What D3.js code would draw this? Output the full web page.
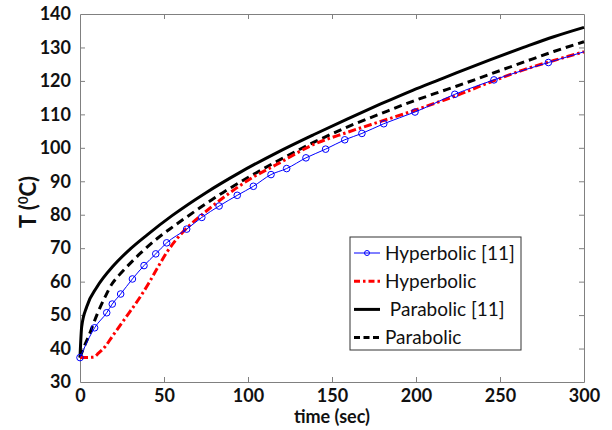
<!DOCTYPE html>
<html>
<head>
<meta charset="utf-8">
<script src="https://cdn.jsdelivr.net/npm/d3@7"></script>
<style>
  body { margin: 0; background: #fff; }
  svg { display: block; }
</style>
</head>
<body>
<div id="chart"></div>
<script>
// curves (time in s, temperature in degC)
var hypRefTime = [0, 8.7, 15.9, 19.2, 24.2, 31.2, 38.1, 45.1, 51.6, 63.5, 72.5, 82.8, 93.6, 103.2, 113.7, 123, 134.5, 146.2, 157.6, 167.8, 180.8, 199.4, 223.1, 246.4, 278.8, 300];
var hypRefTemp = [37.3, 46.2, 50.7, 53.3, 56.3, 60.8, 64.8, 68.3, 71.6, 75.7, 79.2, 82.6, 85.8, 88.5, 92.0, 93.8, 97.0, 99.6, 102.4, 104.3, 107.2, 110.7, 116.0, 120.3, 125.5, 128.7];

var hypTime = [0, 8, 11, 15, 19, 24, 29, 35, 41, 46, 52, 58, 66, 74, 85, 101, 117, 139, 159, 179, 198, 214, 224, 244, 264, 282, 300];
var hypTemp = [37.3, 37.4, 38.6, 40.6, 43.5, 47.0, 50.5, 54.8, 59.6, 64.0, 69.0, 73.0, 77.2, 80.6, 85.0, 90.6, 95.0, 101.0, 104.6, 107.9, 111.0, 113.8, 115.6, 119.6, 123.3, 126.1, 128.7];

var parRefTime = [0, 1, 4, 10, 20, 30, 40, 55, 75, 95, 117, 139, 159, 179, 198, 214, 224, 244, 264, 282, 300];
var parRefTemp = [37.3, 46.5, 52.5, 58.3, 64.8, 69.8, 74.0, 79.8, 86.6, 92.6, 98.5, 103.9, 108.6, 113.1, 117.2, 120.4, 122.4, 126.3, 130.0, 133.2, 136.0];

var parTime = [0, 2, 5, 10, 15, 19, 23, 28, 36, 45, 55, 64, 75, 85, 101, 117, 139, 159, 179, 198, 214, 224, 244, 264, 282, 300];
var parTemp = [37.3, 40, 43.5, 50, 55.5, 59.3, 61.8, 64.5, 68.5, 72.5, 76.3, 79.5, 83.3, 86.6, 91.4, 95.9, 101.6, 106.2, 110.2, 113.9, 116.7, 118.4, 122.0, 125.6, 128.8, 131.7];

var xTicks = [0, 50, 100, 150, 200, 250, 300];
var yTicks = [30, 40, 50, 60, 70, 80, 90, 100, 110, 120, 130, 140];
var legendLabels = ["Hyperbolic [11]", "Hyperbolic", " Parabolic [11]", "Parabolic"];

var W = 612, H = 430;
var margin = { top: 14, right: 28, bottom: 48, left: 80 };
var width = W - margin.left - margin.right;
var height = H - margin.top - margin.bottom;

var svg = d3.select("#chart").append("svg")
    .attr("width", W)
    .attr("height", H);
var g = svg.append("g")
    .attr("transform", "translate(" + margin.left + "," + margin.top + ")");

var x = d3.scaleLinear().domain([0, 300]).range([0, width]);
var y = d3.scaleLinear().domain([30, 140]).range([height, 0]);

var axisColor = "#808080";
var tickFont = "Lato, 'Open Sans', sans-serif";

// axes with inward ticks on all four sides
var xb = g.append("g").attr("transform", "translate(0," + height + ")")
    .call(d3.axisBottom(x).tickValues(xTicks).tickSizeInner(-5).tickSizeOuter(0).tickPadding(7));
var xt = g.append("g")
    .call(d3.axisTop(x).tickValues(xTicks).tickSizeInner(-5).tickSizeOuter(0).tickFormat(""));
var yl = g.append("g")
    .call(d3.axisLeft(y).tickValues(yTicks).tickSizeInner(-5).tickSizeOuter(0).tickPadding(9));
var yr = g.append("g").attr("transform", "translate(" + width + ",0)")
    .call(d3.axisRight(y).tickValues(yTicks).tickSizeInner(-5).tickSizeOuter(0).tickFormat(""));
[xb, xt, yl, yr].forEach(function (a) {
    a.select(".domain").attr("stroke", axisColor);
    a.selectAll(".tick line").attr("stroke", axisColor);
    a.selectAll("text")
        .attr("fill", "#111")
        .style("font-family", tickFont)
        .style("font-weight", "bold")
        .style("font-size", "18px");
});
// no tick marks at the frame corners
xb.selectAll(".tick line").filter(function (d) { return d === 0 || d === 300; }).remove();
xt.selectAll(".tick line").filter(function (d) { return d === 0 || d === 300; }).remove();
yl.selectAll(".tick line").filter(function (d) { return d === 30 || d === 140; }).remove();
yr.selectAll(".tick line").filter(function (d) { return d === 30 || d === 140; }).remove();

function toPts(ts, vs) {
    return ts.map(function (t, i) { return [t, vs[i]]; });
}
var line = d3.line()
    .x(function (d) { return x(d[0]); })
    .y(function (d) { return y(d[1]); })
    .curve(d3.curveMonotoneX);

var series = [
    { pts: toPts(parRefTime, parRefTemp), color: "#000", w: 3, dash: null },
    { pts: toPts(parTime, parTemp), color: "#000", w: 3, dash: "8,5" },
    { pts: toPts(hypTime, hypTemp), color: "#ff0000", w: 3, dash: "8,3,2.5,3" },
    { pts: toPts(hypRefTime, hypRefTemp), color: "#0000ff", w: 1, dash: null }
];
series.forEach(function (s) {
    g.append("path")
        .datum(s.pts)
        .attr("fill", "none")
        .attr("stroke", s.color)
        .attr("stroke-width", s.w)
        .attr("stroke-dasharray", s.dash)
        .attr("d", line);
});

g.append("g").selectAll("circle")
    .data(toPts(hypRefTime, hypRefTemp).filter(function (d) { return d[0] < 300; }))
    .enter()
    .append("circle")
    .attr("cx", function (d) { return x(d[0]); })
    .attr("cy", function (d) { return y(d[1]); })
    .attr("r", 3.3)
    .attr("fill", "none")
    .attr("stroke", "#0000ff")
    .attr("stroke-width", 1);

// axis titles
svg.append("text")
    .attr("x", margin.left + width / 2)
    .attr("y", 423)
    .attr("text-anchor", "middle")
    .style("font-family", tickFont)
    .style("font-weight", "bold")
    .style("font-size", "18px")
    .attr("fill", "#111")
    .text("time (sec)");

var yt = svg.append("text")
    .attr("transform", "translate(36,202) rotate(-90)")
    .attr("text-anchor", "middle")
    .style("font-family", tickFont)
    .style("font-weight", "bold")
    .style("font-size", "22px")
    .attr("fill", "#111");
yt.append("tspan").text("T (");
yt.append("tspan").attr("dy", -8).style("font-size", "13px").text("0");
yt.append("tspan").attr("dy", 8).text("C)");

// legend
var lg = svg.append("g").attr("transform", "translate(350,237)");
lg.append("rect")
    .attr("width", 171).attr("height", 113)
    .attr("fill", "#fff")
    .attr("stroke", "#333")
    .attr("stroke-width", 1);
var legendStyle = [series[3], series[2], series[0], series[1]];
legendLabels.forEach(function (lab, i) {
    var s = legendStyle[i];
    var yy = 16 + i * 28.2;
    var dash = s.dash === "8,5" ? "6,3.5" : (s.dash === "8,3,2.5,3" ? "6,3,2.5,3" : null);
    lg.append("line")
        .attr("x1", 4).attr("x2", 30)
        .attr("y1", yy).attr("y2", yy)
        .attr("stroke", s.color)
        .attr("stroke-width", s.w)
        .attr("stroke-dasharray", dash);
    if (i === 0) {
        lg.append("circle").attr("cx", 17).attr("cy", yy).attr("r", 2.5)
            .attr("fill", "none").attr("stroke", "#0000ff").attr("stroke-width", 1);
    }
    lg.append("text")
        .attr("x", 35)
        .attr("y", yy)
        .attr("dy", "0.35em")
        .style("font-family", tickFont)
        .style("font-size", "19px")
        .style("white-space", "pre")
        .attr("fill", "#111")
        .text(lab);
});
</script>
</body>
</html>
